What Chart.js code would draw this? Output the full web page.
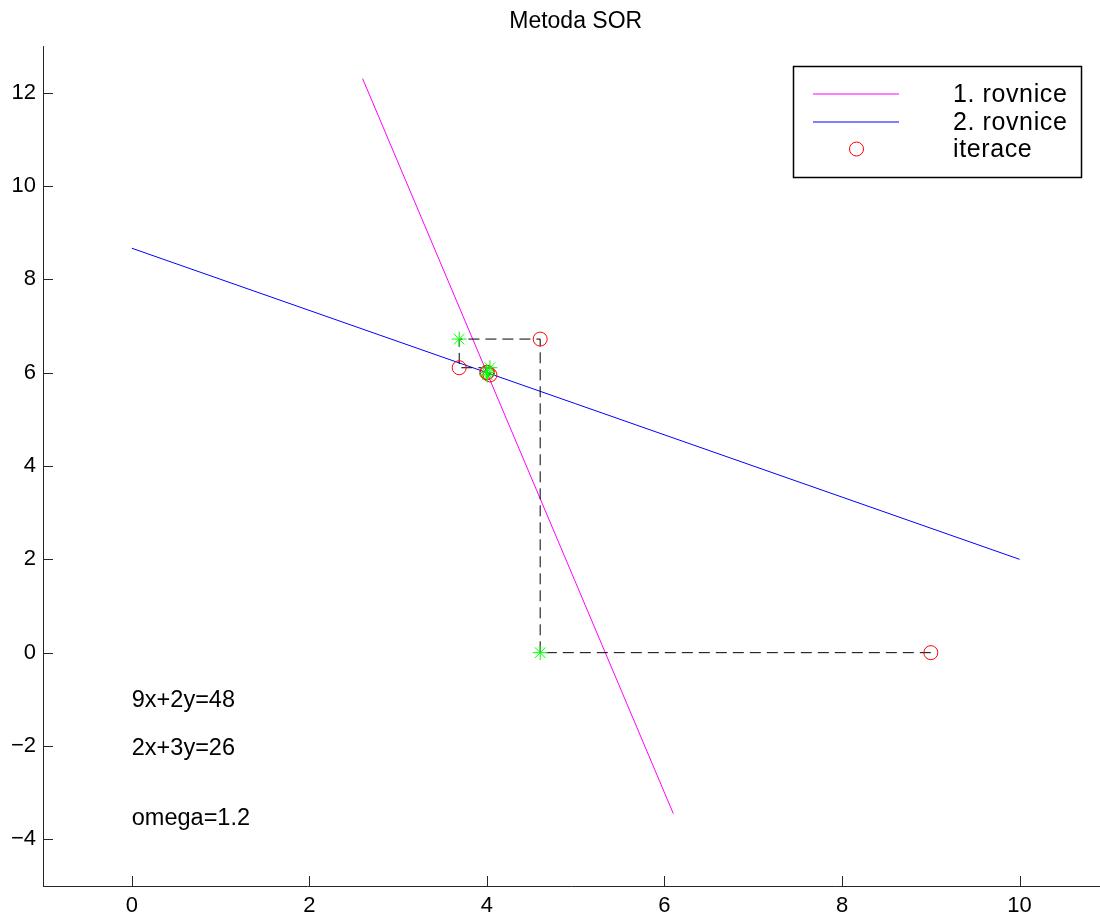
<!DOCTYPE html>
<html>
<head>
<meta charset="utf-8">
<script src="https://cdn.jsdelivr.net/npm/chart.js@4/dist/chart.umd.min.js"></script>
<style>
  html, body { margin: 0; padding: 0; background: #fff; overflow: hidden; }
  #obal { width: 1100px; height: 919px; overflow: hidden; }
</style>
</head>
<body>
<div id="obal"><canvas id="graf" width="1108" height="919"></canvas></div>
<script>
// --- DATA ---
const rovnice1X = [2.6, 6.1];
const rovnice1Y = [12.3, -3.45];
const rovnice2X = [0, 10];
const rovnice2Y = [8.667, 2];

// cesta iteraci (cerne carkovane)
const cestaX = [9, 4.6, 4.6, 3.688, 3.688, 4.034, 4.034, 4.006, 4.006, 3.997, 3.997];
const cestaY = [0, 0, 6.72, 6.72, 6.106, 6.106, 5.951, 5.951, 6.005, 6.005, 6.001];

// krouzky = iterace, hvezdicky = mezikroky
const iteraceX = [9, 4.6, 3.688, 4.034, 4.006, 3.997];
const iteraceY = [0, 6.72, 6.106, 5.951, 6.005, 6.001];
const mezikrokX = [4.6, 3.688, 4.034, 4.006, 3.997];
const mezikrokY = [0, 6.72, 6.106, 5.951, 6.005];

const xTicks = [0, 2, 4, 6, 8, 10];
const yTicks = [-4, -2, 0, 2, 4, 6, 8, 10, 12];

const popisky = [
    { text: '9x+2y=48', x: 0, y: -1.03 },
    { text: '2x+3y=26', x: 0, y: -2.06 },
    { text: 'omega=1.2', x: 0, y: -3.56 }
];
const legendaTexty = ['1. rovnice', '2. rovnice', 'iterace'];

const FONT = "'Liberation Sans', Arial, Helvetica, sans-serif";
const body = (xs, ys) => xs.map((x, i) => ({ x: x, y: ys[i] }));

// --- VLASTNI KRESLENI: titulek, ticky dovnitr, texty, legenda ---
const doplnky = {
    id: 'doplnky',
    afterDraw(chart) {
        const ctx = chart.ctx;
        const sx = chart.scales.x, sy = chart.scales.y;
        const area = chart.chartArea;
        ctx.save();

        // titulek
        ctx.fillStyle = '#000';
        ctx.font = '23px ' + FONT;
        ctx.textAlign = 'center';
        ctx.textBaseline = 'alphabetic';
        ctx.fillText('Metoda SOR', sx.getPixelForValue(5), 28);

        // ticky smerem dovnitr
        ctx.strokeStyle = '#262626';
        ctx.lineWidth = 1;
        ctx.beginPath();
        xTicks.forEach(v => {
            const px = Math.round(sx.getPixelForValue(v)) + 0.5;
            ctx.moveTo(px, area.bottom);
            ctx.lineTo(px, area.bottom - 10);
        });
        yTicks.forEach(v => {
            const py = Math.round(sy.getPixelForValue(v)) + 0.5;
            ctx.moveTo(area.left, py);
            ctx.lineTo(area.left + 10, py);
        });
        ctx.stroke();

        // popisky v grafu
        ctx.font = '23.5px ' + FONT;
        ctx.textAlign = 'left';
        ctx.textBaseline = 'middle';
        popisky.forEach(p => {
            ctx.fillText(p.text, sx.getPixelForValue(p.x), sy.getPixelForValue(p.y));
        });

        // legenda
        const lx = 793, ly = 66, lw = 288, lh = 111;
        ctx.fillStyle = '#fff';
        ctx.fillRect(lx, ly, lw, lh);
        ctx.strokeStyle = '#000';
        ctx.lineWidth = 1.5;
        ctx.strokeRect(lx + 0.5, ly + 0.5, lw, lh);
        const radky = [94, 122, 149];
        ctx.lineWidth = 1;
        ctx.strokeStyle = '#ff00ff';
        ctx.beginPath(); ctx.moveTo(813, radky[0]); ctx.lineTo(899, radky[0]); ctx.stroke();
        ctx.strokeStyle = '#0000ff';
        ctx.beginPath(); ctx.moveTo(813, radky[1]); ctx.lineTo(899, radky[1]); ctx.stroke();
        ctx.strokeStyle = '#ff0000';
        ctx.beginPath(); ctx.arc(856.5, radky[2], 7, 0, Math.PI * 2); ctx.stroke();
        ctx.fillStyle = '#000';
        ctx.font = '25px ' + FONT;
        ctx.letterSpacing = '0.6px';
        ctx.textAlign = 'left';
        ctx.textBaseline = 'middle';
        legendaTexty.forEach((t, i) => ctx.fillText(t, 953, radky[i] + 1));

        ctx.restore();
    }
};

const ctx = document.getElementById('graf').getContext('2d');
const graf = new Chart(ctx, {
    type: 'scatter',
    data: {
        datasets: [
            {
                label: 'mezikrok',
                data: body(mezikrokX, mezikrokY),
                showLine: false,
                pointStyle: 'star',
                pointRadius: 7.5,
                borderColor: '#00ff00',
                backgroundColor: '#00ff00',
                borderWidth: 1,
                order: 0
            },
            {
                label: 'iterace',
                data: body(iteraceX, iteraceY),
                showLine: false,
                pointStyle: 'circle',
                pointRadius: 7,
                borderColor: '#ff0000',
                backgroundColor: 'rgba(0,0,0,0)',
                borderWidth: 1,
                order: 1
            },
            {
                label: 'cesta',
                data: body(cestaX, cestaY),
                showLine: true,
                borderColor: '#000',
                borderWidth: 1,
                borderDash: [11, 6],
                pointRadius: 0,
                order: 2
            },
            {
                label: '2. rovnice',
                data: body(rovnice2X, rovnice2Y),
                showLine: true,
                borderColor: '#0000ff',
                borderWidth: 1,
                pointRadius: 0,
                order: 3
            },
            {
                label: '1. rovnice',
                data: body(rovnice1X, rovnice1Y),
                showLine: true,
                borderColor: '#ff00ff',
                borderWidth: 1,
                pointRadius: 0,
                order: 4
            }
        ]
    },
    options: {
        responsive: false,
        animation: false,
        layout: { padding: { top: 46, left: 0, right: 0, bottom: 0 } },
        plugins: {
            legend: { display: false },
            title: { display: false },
            tooltip: { enabled: false }
        },
        scales: {
            x: {
                type: 'linear',
                min: -1,
                max: 10.9,
                afterBuildTicks: s => { s.ticks = xTicks.map(v => ({ value: v })); },
                afterFit: s => { s.height = 33; },
                grid: { display: true, drawOnChartArea: false, drawTicks: false },
                border: { display: true, color: '#262626', width: 1 },
                ticks: {
                    color: '#000',
                    padding: 7,
                    maxRotation: 0,
                    font: { family: FONT, size: 22 }
                }
            },
            y: {
                type: 'linear',
                min: -5,
                max: 13,
                afterBuildTicks: s => { s.ticks = yTicks.map(v => ({ value: v })); },
                afterFit: s => { s.width = 43; },
                grid: { display: true, drawOnChartArea: false, drawTicks: false },
                border: { display: true, color: '#262626', width: 1 },
                ticks: {
                    color: '#000',
                    padding: 7,
                    font: { family: FONT, size: 22 },
                    callback: v => (v < 0 ? '\u2212' + Math.abs(v) : String(v))
                }
            }
        }
    },
    plugins: [doplnky]
});
</script>
</body>
</html>
